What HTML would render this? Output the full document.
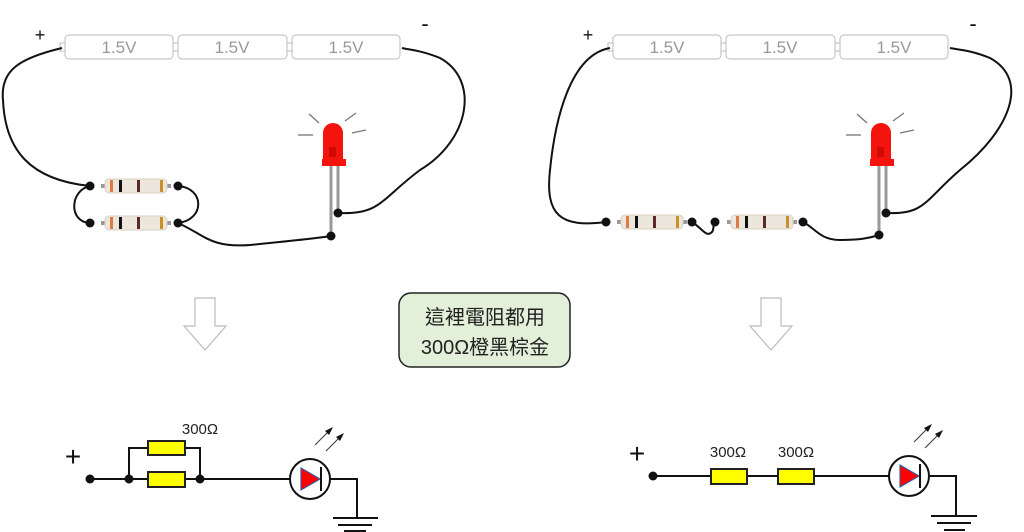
<!DOCTYPE html>
<html><head><meta charset="utf-8"><style>
html,body{margin:0;padding:0;background:#fff;}
svg{display:block}
text{font-family:"Liberation Sans","Noto Sans CJK TC",sans-serif}
</style></head><body>
<svg width="1024" height="532" viewBox="0 0 1024 532" xmlns="http://www.w3.org/2000/svg">
<defs>
<g id="bat">
  <rect x="60" y="43" width="5" height="8" fill="#fff" stroke="#bbb"/>
  <rect x="65" y="35" width="108" height="24" rx="4" fill="#fff" stroke="#bbb"/>
  <rect x="173" y="43" width="5" height="8" fill="#fff" stroke="#bbb"/>
  <rect x="178" y="35" width="109" height="24" rx="4" fill="#fff" stroke="#bbb"/>
  <rect x="287" y="43" width="5" height="8" fill="#fff" stroke="#bbb"/>
  <rect x="292" y="35" width="108" height="24" rx="4" fill="#fff" stroke="#bbb"/>
  <text x="119" y="53" font-size="17" fill="#999" text-anchor="middle">1.5V</text>
  <text x="232" y="53" font-size="17" fill="#999" text-anchor="middle">1.5V</text>
  <text x="346" y="53" font-size="17" fill="#999" text-anchor="middle">1.5V</text>
  <text x="40" y="41" font-size="18" fill="#111" text-anchor="middle">+</text>
  <text x="425" y="31" font-size="22" fill="#111" text-anchor="middle">-</text>
</g>
<g id="res">
  <rect x="-4" y="-2" width="70" height="4" fill="#999"/>
  <rect x="0" y="-7" width="62" height="14" rx="4" fill="#ece6dc" stroke="#d8d0c0"/>
  <rect x="5" y="-6" width="3" height="12" fill="#e07a45"/>
  <rect x="14" y="-6" width="3" height="12" fill="#111"/>
  <rect x="32" y="-6" width="3" height="12" fill="#5a2a2a"/>
  <rect x="55" y="-6" width="3" height="12" fill="#c8902a"/>
</g>
<g id="led">
  <line x1="331" y1="166" x2="331" y2="236" stroke="#999" stroke-width="3"/>
  <line x1="338" y1="166" x2="338" y2="213" stroke="#999" stroke-width="3"/>
  <path d="M323 160 V133 A10 10 0 0 1 343 133 V160 Z" fill="#f5130d"/>
  <rect x="322" y="159" width="24" height="7" fill="#f5130d"/>
  <rect x="329" y="147" width="7" height="10" fill="#d00a05"/>
  <g stroke="#777" stroke-width="1.3">
    <line x1="309" y1="114" x2="319" y2="123"/><line x1="345" y1="121" x2="356" y2="113"/>
    <line x1="298" y1="135" x2="313" y2="135"/><line x1="352" y1="133" x2="366" y2="130"/>
  </g>
</g>
<g id="dio">
  <circle cx="0" cy="0" r="20" fill="#fff" stroke="#111" stroke-width="2"/>
  <polygon points="-9,-11 -9,11 10,0" fill="#f00" stroke="#3a5aa0" stroke-width="1.2"/>
  <line x1="11" y1="-12" x2="11" y2="12" stroke="#111" stroke-width="2"/>
  <g stroke="#333" stroke-width="1">
    <line x1="5" y1="-34" x2="20" y2="-49"/><line x1="16" y1="-28" x2="31" y2="-43"/>
  </g>
  <polygon points="23,-52 15,-48 19,-44" fill="#111"/>
  <polygon points="34,-46 26,-42 30,-38" fill="#111"/>
</g>
</defs>

<use href="#bat"/>
<g fill="none" stroke="#111" stroke-width="2">
  <path d="M62 48 C20 58 0 70 3 100 C5 150 30 180 90 186"/>
  <path d="M90 186 C70 190 68 222 90 223"/>
  <path d="M178 186 C205 188 205 220 178 223"/>
  <path d="M178 223 C205 235 210 248 250 245 C300 240 320 238 331 236"/>
  <path d="M338 213 C380 215 380 200 420 170 C470 140 480 80 440 58 C420 50 410 50 402 48"/>
</g>
<use href="#res" x="105" y="186"/>
<use href="#res" x="105" y="223"/>
<g fill="#111"><circle cx="90" cy="186" r="4.5"/><circle cx="178" cy="186" r="4.5"/><circle cx="90" cy="223" r="4.5"/><circle cx="178" cy="223" r="4.5"/></g>
<use href="#led"/>
<g fill="#111"><circle cx="338" cy="213" r="4.5"/><circle cx="331" cy="236" r="4.5"/></g>

<g transform="translate(548,0)"><use href="#bat"/></g>
<g fill="none" stroke="#111" stroke-width="2">
  <path d="M610 48 C570 55 555 120 550 170 C545 215 560 228 606 222"/>
  <path d="M692 222 C702 228 706 238 712 232 C715 228 712 222 715 222"/>
  <path d="M803 222 C815 228 820 240 840 240 C860 240 870 238 879 235"/>
  <path d="M886 213 C925 215 925 200 960 170 C1010 130 1030 80 990 58 C970 50 960 50 950 48"/>
</g>
<use href="#res" x="621" y="222"/>
<use href="#res" x="731" y="222"/>
<g fill="#111"><circle cx="606" cy="222" r="4.5"/><circle cx="692" cy="222" r="4.5"/><circle cx="715" cy="222" r="4.5"/><circle cx="803" cy="222" r="4.5"/></g>
<g transform="translate(548,0)"><use href="#led"/></g>
<g fill="#111"><circle cx="886" cy="213" r="4.5"/><circle cx="879" cy="235" r="4.5"/></g>

<g fill="#fff" stroke="#bbb" stroke-width="1.2">
  <polygon points="195,298 215,298 215,326 226,326 205,350 184,326 195,326"/>
  <polygon points="761,298 781,298 781,326 792,326 771,350 750,326 761,326"/>
</g>
<rect x="399" y="293" width="171" height="74" rx="12" fill="#e2efd9" stroke="#222" stroke-width="1.5"/>
<text x="485" y="324" font-size="20" text-anchor="middle" fill="#222">這裡電阻都用</text>
<text x="485" y="354" font-size="20" text-anchor="middle" fill="#222">300Ω橙黑棕金</text>

<text x="73" y="466" font-size="28" text-anchor="middle" fill="#111">+</text>
<g stroke="#111" stroke-width="2" fill="none">
  <line x1="90" y1="479" x2="290" y2="479"/>
  <polyline points="129,479 129,448 200,448 200,479"/>
  <polyline points="330,479 357,479 357,518"/>
  <line x1="333" y1="518" x2="378" y2="518"/>
  <line x1="338" y1="525" x2="372" y2="525"/>
  <line x1="344" y1="531" x2="366" y2="531"/>
</g>
<rect x="148" y="441" width="37" height="14" fill="#ff0" stroke="#222" stroke-width="2"/>
<rect x="148" y="472" width="37" height="15" fill="#ff0" stroke="#222" stroke-width="2"/>
<g fill="#111"><circle cx="90" cy="479" r="4.5"/><circle cx="129" cy="479" r="4.5"/><circle cx="200" cy="479" r="4.5"/></g>
<text x="200" y="434" font-size="15" text-anchor="middle" fill="#222">300Ω</text>
<use href="#dio" x="310" y="479"/>

<text x="637" y="463" font-size="28" text-anchor="middle" fill="#111">+</text>
<g stroke="#111" stroke-width="2" fill="none">
  <line x1="653" y1="476" x2="890" y2="476"/>
  <polyline points="930,476 956,476 956,516"/>
  <line x1="931" y1="516" x2="977" y2="516"/>
  <line x1="937" y1="523" x2="971" y2="523"/>
  <line x1="944" y1="530" x2="965" y2="530"/>
</g>
<rect x="711" y="469" width="36" height="15" fill="#ff0" stroke="#222" stroke-width="2"/>
<rect x="778" y="469" width="36" height="15" fill="#ff0" stroke="#222" stroke-width="2"/>
<circle cx="653" cy="476" r="4.5" fill="#111"/>
<text x="728" y="457" font-size="15" text-anchor="middle" fill="#222">300Ω</text>
<text x="796" y="457" font-size="15" text-anchor="middle" fill="#222">300Ω</text>
<use href="#dio" x="909" y="476"/>
</svg>
</body></html>
